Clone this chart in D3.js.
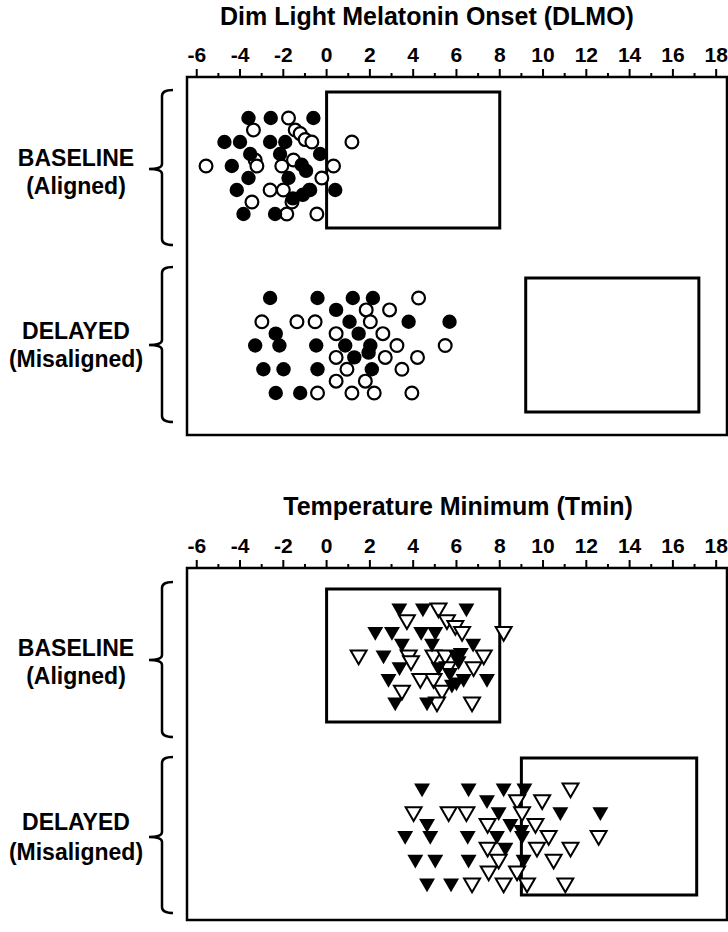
<!DOCTYPE html>
<html>
<head>
<meta charset="utf-8">
<script src="https://cdn.jsdelivr.net/npm/d3@7"></script>
<style>
  body { margin: 0; background: #fff; }
  svg { display: block; font-family: Arial, "Liberation Sans", sans-serif; font-weight: bold; }
</style>
</head>
<body>
<svg id="chart" width="728" height="932"></svg>
<script>
// hour ticks along the top of each panel
var tickLabels = [-6, -4, -2, 0, 2, 4, 6, 8, 10, 12, 14, 16, 18];
var minorTicks = [-5, -3, -1, 1, 3, 5, 7, 9, 11, 13, 15, 17];

// sleep windows (hours)
var dlmoBaselineBox = [0, 8];
var dlmoDelayedBox = [9.2, 17.2];
var tminBaselineBox = [0, 8];
var tminDelayedBox = [9.0, 17.1];

// [hour, row]  (row = vertical jitter, 0 top .. 8 bottom)
var dlmoBaseFilled = [
  [-3.61, 0], [-2.58, 0], [-0.61, 0],
  [-4.72, 2], [-4.0, 2], [-2.61, 2], [-1.91, 2],
  [-3.53, 3], [-2.15, 3], [-0.3, 3],
  [-4.38, 4], [-1.15, 3.9], [-0.95, 4.4],
  [-3.61, 5], [-1.76, 5],
  [-4.15, 6], [-0.76, 6], [0.4, 6],
  [-1.56, 6.7], [-1.1, 6.4], [-0.8, 6.0],
  [-3.84, 8], [-2.38, 8]
];
var dlmoBaseOpen = [
  [-1.76, 0],
  [-3.38, 1], [-1.45, 1], [-1.22, 1.3], [-0.99, 1.8], [-0.68, 2], [1.17, 2],
  [-3.3, 3.5], [-3.22, 4], [-5.57, 4], [-2.07, 4], [-1.53, 3.5], [0.32, 4],
  [-0.22, 5],
  [-2.61, 6], [-2.0, 6],
  [-3.45, 7], [-1.6, 7],
  [-1.84, 8], [-0.45, 8]
];
var dlmoDelFilled = [
  [-2.61, 0], [-0.42, 0], [1.21, 0], [2.14, 0],
  [0.44, 1],
  [1.06, 2], [3.79, 2], [5.68, 2],
  [-2.35, 3], [1.48, 3],
  [-3.3, 4], [-2.18, 4], [-0.48, 4], [0.86, 4], [2.02, 4],
  [1.94, 4.6], [1.28, 5],
  [-2.92, 6], [-1.99, 6], [-0.42, 6], [2.09, 6],
  [-2.35, 8], [-1.22, 8]
];
var dlmoDelOpen = [
  [4.25, 0],
  [1.83, 1], [2.91, 1],
  [-2.99, 2], [-1.37, 2], [-0.53, 2], [2.02, 2],
  [0.44, 3], [2.6, 3],
  [3.25, 4], [5.48, 4],
  [0.44, 5], [2.71, 5], [4.2, 5],
  [0.94, 6], [3.48, 6],
  [0.44, 7], [1.79, 7],
  [-0.42, 8], [1.17, 8], [2.2, 8], [3.94, 8]
];
var tminBaseFilled = [
  [3.36, 0], [4.45, 0], [6.46, 0],
  [2.25, 2], [3.02, 2], [4.37, 2], [5.02, 2],
  [3.48, 3], [4.87, 3], [6.77, 3],
  [2.63, 4], [5.99, 4], [6.2, 3.8], [6.1, 4.5],
  [3.37, 5], [5.17, 5], [5.7, 5.5],
  [2.86, 6], [7.41, 6], [6.33, 6], [6.0, 6.3], [5.79, 6.5],
  [3.17, 8], [4.64, 8]
];
var tminBaseOpen = [
  [5.17, 0],
  [3.71, 1], [5.56, 1], [5.95, 1.5], [6.26, 2], [8.18, 2],
  [1.48, 4], [3.79, 4], [3.9, 4.5], [4.94, 4], [5.48, 4], [7.26, 4],
  [6.79, 5], [5.6, 5],
  [4.33, 6], [4.94, 6],
  [3.48, 7], [5.33, 7],
  [5.1, 8], [6.72, 8]
];
var tminDelFilled = [
  [4.41, 0], [6.56, 0], [8.18, 0], [9.14, 0],
  [7.41, 1],
  [7.95, 2], [10.8, 2], [12.65, 2],
  [4.64, 3], [8.49, 3],
  [3.63, 4], [4.79, 4], [6.52, 4], [7.87, 4], [9.03, 4], [9.0, 3.5],
  [8.26, 5],
  [4.1, 6], [5.02, 6], [6.56, 6], [9.1, 6],
  [4.64, 8], [5.75, 8]
];
var tminDelOpen = [
  [11.27, 0],
  [8.8, 1], [9.96, 1],
  [4.02, 2], [5.64, 2], [6.46, 2], [9.03, 2],
  [7.44, 3], [9.65, 3],
  [10.26, 4], [12.57, 4],
  [7.44, 5], [9.72, 5], [11.27, 5],
  [7.95, 6], [10.49, 6],
  [7.49, 7], [8.8, 7],
  [6.72, 8], [8.18, 8], [9.26, 8], [11.03, 8]
];

var svg = d3.select("#chart");

var x = d3.scaleLinear().domain([-6.45, 18.5]).range([187, 727]);

var panels = [
  {
    title: "Dim Light Melatonin Onset (DLMO)", titleX: 427, titleY: 25,
    frameTop: 77, frameBottom: 435, shape: "circle",
    groups: [
      { label: ["BASELINE", "(Aligned)"], labelY: [166, 194], rows: [118, 214],
        box: dlmoBaselineBox, boxY: [92, 228], bracket: [90, 245, 169],
        filled: dlmoBaseFilled, open: dlmoBaseOpen },
      { label: ["DELAYED", "(Misaligned)"], labelY: [339, 367], rows: [298, 393],
        box: dlmoDelayedBox, boxY: [278, 412], bracket: [267, 422, 345],
        filled: dlmoDelFilled, open: dlmoDelOpen }
    ]
  },
  {
    title: "Temperature Minimum (Tmin)", titleX: 458, titleY: 515,
    frameTop: 568, frameBottom: 920, shape: "triangle",
    groups: [
      { label: ["BASELINE", "(Aligned)"], labelY: [656, 684], rows: [608, 702],
        box: tminBaselineBox, boxY: [589, 722], bracket: [582, 737, 660],
        filled: tminBaseFilled, open: tminBaseOpen },
      { label: ["DELAYED", "(Misaligned)"], labelY: [830, 860], rows: [788, 883],
        box: tminDelayedBox, boxY: [758, 895], bracket: [757, 913, 837],
        filled: tminDelFilled, open: tminDelOpen }
    ]
  }
];

var triangle = d3.symbol().type(d3.symbolTriangle).size(110);

panels.forEach(function(p) {
  var g = svg.append("g");

  g.append("text")
    .attr("x", p.titleX).attr("y", p.titleY)
    .attr("text-anchor", "middle")
    .attr("font-size", 25)
    .text(p.title);

  // frame
  g.append("rect")
    .attr("x", x.range()[0]).attr("y", p.frameTop)
    .attr("width", x.range()[1] - x.range()[0])
    .attr("height", p.frameBottom - p.frameTop)
    .attr("fill", "none").attr("stroke", "#000").attr("stroke-width", 2.5);

  // top axis
  g.selectAll(".major").data(tickLabels).enter().append("line")
    .attr("x1", function(d) { return x(d); }).attr("x2", function(d) { return x(d); })
    .attr("y1", p.frameTop - 8).attr("y2", p.frameTop)
    .attr("stroke", "#000").attr("stroke-width", 2);
  g.selectAll(".minor").data(minorTicks).enter().append("line")
    .attr("x1", function(d) { return x(d); }).attr("x2", function(d) { return x(d); })
    .attr("y1", p.frameTop - 4).attr("y2", p.frameTop)
    .attr("stroke", "#000").attr("stroke-width", 2);
  g.selectAll(".tl").data(tickLabels).enter().append("text")
    .attr("x", function(d) { return x(d); })
    .attr("y", p.frameTop - 15)
    .attr("text-anchor", "middle")
    .attr("font-size", 21)
    .text(function(d) { return d; });

  p.groups.forEach(function(gr) {
    var y = d3.scaleLinear().domain([0, 8]).range(gr.rows);

    g.append("rect")
      .attr("x", x(gr.box[0])).attr("y", gr.boxY[0])
      .attr("width", x(gr.box[1]) - x(gr.box[0]))
      .attr("height", gr.boxY[1] - gr.boxY[0])
      .attr("fill", "none").attr("stroke", "#000").attr("stroke-width", 3);

    // bracket
    var b = gr.bracket, bx = 162;
    g.append("path")
      .attr("d", "M" + (bx + 11) + "," + b[0] + " Q" + bx + "," + b[0] + " " + bx + "," + (b[0] + 6) +
        " L" + bx + "," + (b[2] - 5) + " Q" + bx + "," + b[2] + " " + (bx - 13) + "," + b[2] +
        " Q" + bx + "," + b[2] + " " + bx + "," + (b[2] + 5) +
        " L" + bx + "," + (b[1] - 6) + " Q" + bx + "," + b[1] + " " + (bx + 11) + "," + b[1])
      .attr("fill", "none").attr("stroke", "#000").attr("stroke-width", 2.5);

    gr.label.forEach(function(t, i) {
      g.append("text")
        .attr("x", 76).attr("y", gr.labelY[i])
        .attr("text-anchor", "middle")
        .attr("font-size", 23)
        .text(t);
    });

    var series = [
      { data: gr.open, fill: "#fff" },
      { data: gr.filled, fill: "#000" }
    ];
    series.forEach(function(s) {
      if (p.shape === "circle") {
        g.selectAll(null).data(s.data).enter().append("circle")
          .attr("cx", function(d) { return x(d[0]); })
          .attr("cy", function(d) { return y(d[1]); })
          .attr("r", s.fill === "#000" ? 7.2 : 6.4)
          .attr("fill", s.fill)
          .attr("stroke", "#000")
          .attr("stroke-width", s.fill === "#000" ? 0 : 2.2);
      } else {
        g.selectAll(null).data(s.data).enter().append("path")
          .attr("d", triangle)
          .attr("transform", function(d) { return "translate(" + x(d[0]) + "," + y(d[1]) + ") rotate(180)"; })
          .attr("fill", s.fill)
          .attr("stroke", "#000")
          .attr("stroke-width", s.fill === "#000" ? 0 : 2)
          .attr("stroke-linejoin", "miter");
      }
    });
  });
});
</script>
</body>
</html>
